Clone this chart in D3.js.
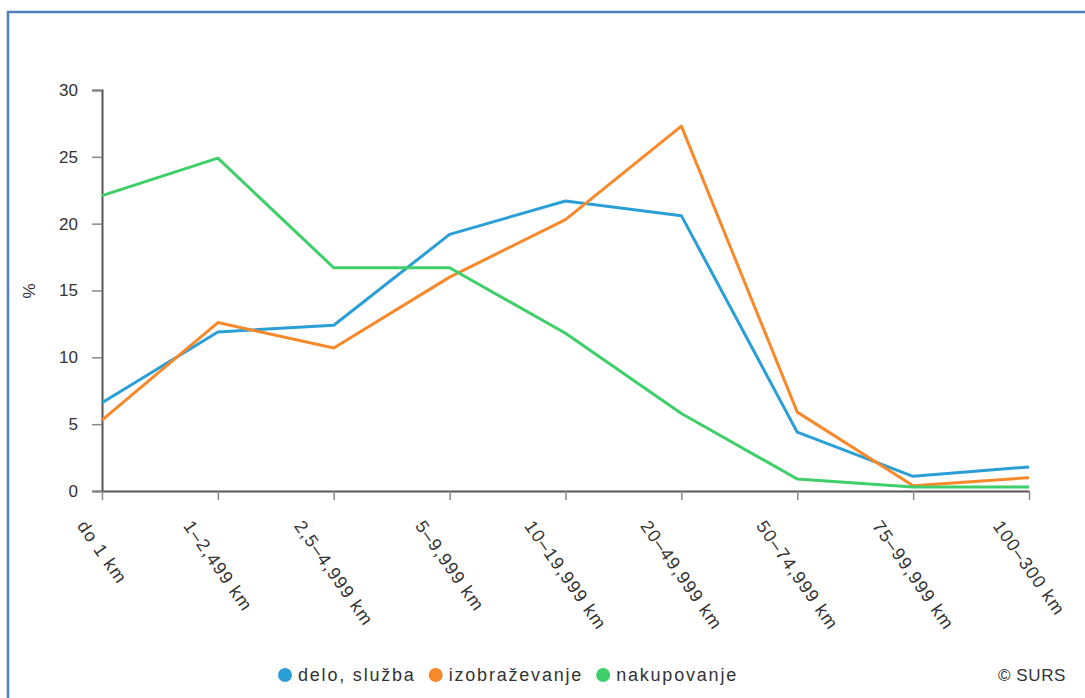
<!DOCTYPE html>
<html>
<head>
<meta charset="utf-8">
<script src="https://cdn.jsdelivr.net/npm/d3@7"></script>
<style>
  html, body { margin: 0; padding: 0; background: #fff; }
  svg { display: block; font-family: "Liberation Sans", Arial, sans-serif; }
</style>
</head>
<body>
<svg id="chart" width="1085" height="698"></svg>
<script>
// Distance classes (x axis)
const categories = ["do 1 km", "1–2,499 km", "2,5–4,999 km", "5–9,999 km", "10–19,999 km",
                    "20–49,999 km", "50–74,999 km", "75–99,999 km", "100–300 km"];
// Share of trips (%) per purpose
const deloSluzba    = [6.6, 11.9, 12.4, 19.2, 21.7, 20.6, 4.4, 1.1, 1.8];
const izobrazevanje = [5.3, 12.6, 10.7, 16.0, 20.3, 27.3, 5.9, 0.4, 1.0];
const nakupovanje   = [22.1, 24.9, 16.7, 16.7, 11.8, 5.8, 0.9, 0.3, 0.3];
const yTicks = [0, 5, 10, 15, 20, 25, 30];

const seriesNames  = ["delo, služba", "izobraževanje", "nakupovanje"];
const seriesColors = ["#2a9fd6", "#f7892b", "#3ecf6b"];
const seriesValues = [deloSluzba, izobrazevanje, nakupovanje];

const svg = d3.select("#chart");

// outer frame
svg.append("rect")
  .attr("x", 8).attr("y", 12).attr("width", 1100).attr("height", 720)
  .attr("fill", "none").attr("stroke", "#4f81bd").attr("stroke-width", 2.5);

const x = d3.scalePoint().domain(categories).range([102, 1029]);
const y = d3.scaleLinear().domain([0, 30]).range([491, 90]);

// y axis
const yAxis = svg.append("g")
  .attr("transform", "translate(102,0)")
  .call(d3.axisLeft(y).tickValues(yTicks).tickSize(10).tickPadding(14).tickFormat(d3.format("d")));
yAxis.select(".domain").attr("stroke", "#555").attr("stroke-width", 2);
yAxis.selectAll(".tick line").attr("stroke", "#888").attr("stroke-width", 1.5);
yAxis.selectAll(".tick text").attr("fill", "#333").style("font-size", "17px")
  .style("font-family", "'Liberation Sans', Arial, sans-serif");

// x axis
const xAxis = svg.append("g")
  .attr("transform", "translate(0,491)")
  .call(d3.axisBottom(x).tickSize(9).tickSizeOuter(0));
xAxis.select(".domain").attr("stroke", "#555").attr("stroke-width", 2);
xAxis.selectAll(".tick line").attr("stroke", "#888").attr("stroke-width", 1.5);

// rotated category labels, centred horizontally under each tick
const angle = 55, rad = angle * Math.PI / 180, asc = 13;
xAxis.selectAll(".tick text").each(function(d) {
  const t = d3.select(this)
    .attr("fill", "#333").style("font-size", "18px").style("letter-spacing", "1.2px")
    .style("font-family", "'Liberation Sans', Arial, sans-serif")
    .attr("text-anchor", "start").attr("dy", null).attr("y", 0).attr("x", 0);
  const len = this.getComputedTextLength();
  const dx = -(len * Math.cos(rad) + asc * Math.sin(rad)) / 2;
  t.attr("transform", `translate(${dx},35) rotate(${angle})`);
});

// y axis title
svg.append("text")
  .attr("transform", "translate(35,291) rotate(-90)")
  .attr("text-anchor", "middle")
  .attr("fill", "#333").style("font-size", "17px")
  .text("%");

// lines
const line = d3.line()
  .x((d, i) => x(categories[i]))
  .y(d => y(d));

seriesValues.forEach((vals, k) => {
  svg.append("path")
    .datum(vals)
    .attr("fill", "none")
    .attr("stroke", seriesColors[k])
    .attr("stroke-width", 3)
    .attr("stroke-linejoin", "round")
    .attr("d", line);
});

// legend
const legend = svg.append("g").attr("transform", "translate(0,675)");
let cx = 285;
seriesNames.forEach((name, k) => {
  const g = legend.append("g");
  g.append("circle").attr("cx", cx).attr("cy", 0).attr("r", 7).attr("fill", seriesColors[k]);
  const txt = g.append("text").attr("x", cx + 13).attr("y", 6)
    .attr("fill", "#333").style("font-size", "18px").style("letter-spacing", "1.8px").text(name);
  const w = txt.node().getComputedTextLength();
  cx = cx + 13 + w + 20;
});

svg.append("text")
  .attr("x", 1066).attr("y", 681)
  .attr("text-anchor", "end")
  .attr("fill", "#333").style("font-size", "17px").style("letter-spacing", "0.6px")
  .text("© SURS");
</script>
</body>
</html>
